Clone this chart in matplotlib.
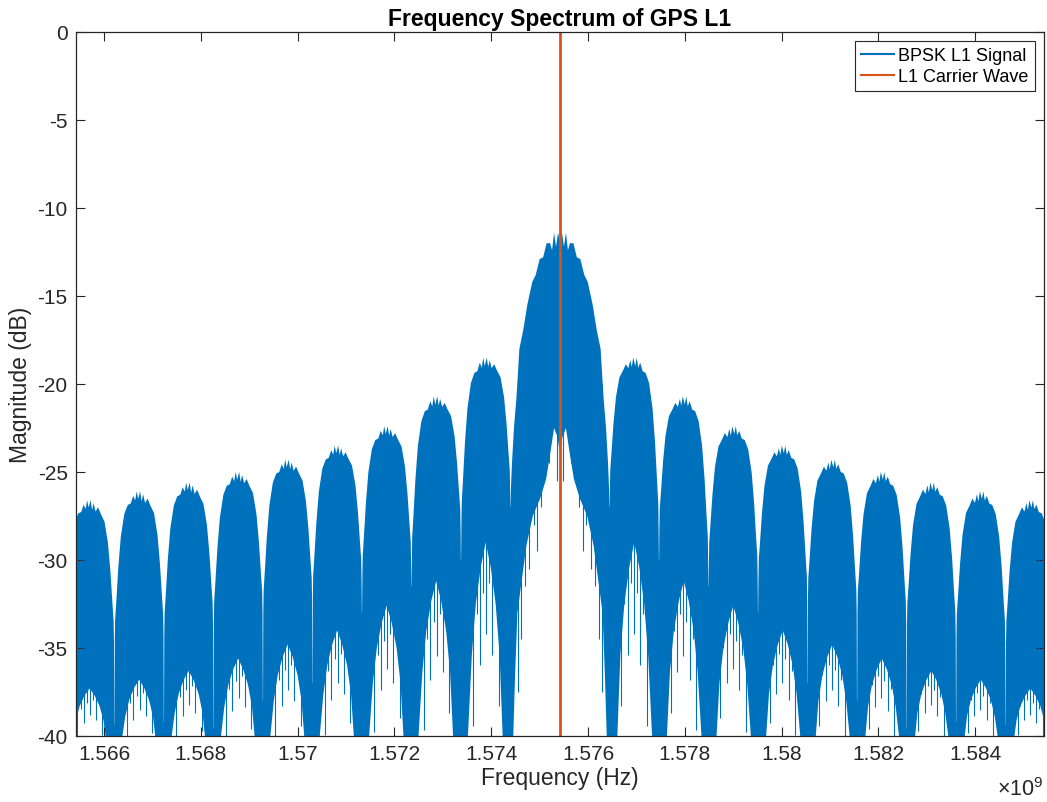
import matplotlib
matplotlib.use("Agg")
import matplotlib.pyplot as plt
import numpy as np
from matplotlib.lines import Line2D

plt.rcParams["font.family"] = ["Liberation Sans", "DejaVu Sans"]
plt.rcParams["axes.unicode_minus"] = False
plt.rcParams["mathtext.fontset"] = "custom"
plt.rcParams["mathtext.rm"] = "Liberation Sans"

BLUE = "#0072BD"
ORANGE = "#D95319"
AXIS_GRAY = "#262626"

# 频率轴：L1 载波 ± 10 MHz，码片速率 1.023 MHz（偏移量以码片为单位）
CARRIER_HZ = 1.57542e9
CHIP_HZ = 1.023e6
SPAN_HZ = 10e6
BOTTOM_DB = -40.6

xtick_hz = [1.566e9, 1.568e9, 1.570e9, 1.572e9, 1.574e9, 1.576e9,
            1.578e9, 1.580e9, 1.582e9, 1.584e9]
xtick_labels = ["1.566", "1.568", "1.57", "1.572", "1.574", "1.576",
                "1.578", "1.58", "1.582", "1.584"]
ytick_db = [-40, -35, -30, -25, -20, -15, -10, -5, 0]
ytick_labels = ["-40", "-35", "-30", "-25", "-20", "-15", "-10", "-5", "0"]

# 主瓣上/下包络（读图，码片偏移，两侧对称）
main_top_off = [0.0, 0.04, 0.08, 0.12, 0.16, 0.2, 0.27, 0.34, 0.41, 0.49, 0.56,
                0.66, 0.74, 0.82, 0.88, 0.93, 0.97]
main_top_db = [-11.9, -11.4, -12.2, -11.4, -12.4, -12.0, -12.0, -12.8, -12.9, -13.8, -14.2,
               -15.5, -16.9, -18.0, -20.8, -22.5, -24.5]
main_low_off = [0.0, 0.05, 0.12, 0.2, 0.28, 0.4, 0.55, 0.68, 0.86, 0.91, 0.95, 1.0]
main_low_db = [-24.0, -23.0, -22.5, -24.0, -25.4, -26.5, -27.5, -29.2, -33.0, -36.8, -40.6, -40.6]
main_spike_off = [0.06, 0.1, 0.17, 0.22, 0.31, 0.38, 0.47, 0.52, 0.62, 0.7, 0.78, 0.84]
main_spike_db = [-25.5, -22.0, -21.8, -24.5, -24.8, -27.0, -29.5, -28.0, -30.5, -31.5, -34.5, -37.5]

# 旁瓣 k = 1..9（两侧相同）：峰值、下方空白区顶部
side_peak_db = [-18.5, -20.7, -22.4, -23.5, -24.3, -25.0, -25.6, -26.1, -26.6]
side_floor_db = [-29.0, -31.2, -32.6, -34.0, -34.8, -35.6, -36.3, -36.8, -37.3]
# 第 k 个零点（k = 1..10）处缺口的深度与细缝底部
null_notch_db = [-26.0, -28.2, -30.1, -31.1, -32.2, -33.0, -33.7, -34.3, -34.7, -35.0]
null_slit_db = [-27.0, -30.0, -31.5, -33.0, -37.0, -38.0, -39.6, -39.2, -39.4, -39.5]

# 旁瓣形状（f 为瓣内位置，0 = 内侧零点）
side_top_f = [0.015, 0.04, 0.08, 0.13, 0.2, 0.27, 0.33, 0.38, 0.42, 0.45, 0.48, 0.52,
              0.55, 0.58, 0.62, 0.67, 0.73, 0.8, 0.87, 0.92, 0.96, 0.985]
side_top_frac = [0.85, 0.72, 0.5, 0.3, 0.15, 0.1, 0.05, 0.08, 0.02, 0.07, 0.0, 0.05,
                 0.0, 0.06, 0.03, 0.08, 0.09, 0.15, 0.3, 0.5, 0.72, 0.85]
side_low_f = [0.0, 0.15, 0.22, 0.3, 0.4, 0.5, 0.6, 0.7, 0.78, 0.87, 1.0]
side_low_frac = [0.0, 0.0, 0.45, 0.7, 0.88, 1.0, 0.88, 0.7, 0.45, 0.0, 0.0]
side_spike_f = [0.24, 0.3, 0.37, 0.43, 0.49, 0.55, 0.62, 0.68, 0.75]
side_spike_depth = [0.8, 0.3, 0.55, 0.2, 0.45, 0.25, 0.6, 0.35, 0.9]


def main():
    top_pts, low_pts = [], []
    spike_x, spike_lo, spike_hi = [], [], []

    for s in (-1, 1):
        # 主瓣
        for o, d in zip(main_top_off, main_top_db):
            top_pts.append((s * o, d))
        for o, d in zip(main_low_off, main_low_db):
            low_pts.append((s * o, d))
        for o, d in zip(main_spike_off, main_spike_db):
            spike_x.append(s * o)
            spike_lo.append(d)
            spike_hi.append(-20.0)

        # 旁瓣
        for k in range(1, 10):
            peak = side_peak_db[k - 1]
            floor = side_floor_db[k - 1]
            for f, fr in zip(side_top_f, side_top_frac):
                notch = null_notch_db[k - 1] if f < 0.5 else null_notch_db[k]
                top_pts.append((s * (k + f), peak - fr * (peak - notch)))
            for f, fr in zip(side_low_f, side_low_frac):
                low_pts.append((s * (k + f), BOTTOM_DB + fr * (floor - BOTTOM_DB)))
            for f, dp in zip(side_spike_f, side_spike_depth):
                spike_x.append(s * (k + f))
                spike_lo.append(floor + dp * (BOTTOM_DB - floor))
                spike_hi.append(peak - 3.0)

        # 零点缺口与细缝
        for k in range(1, 11):
            n = s * k
            top_pts += [(n - 0.008, null_notch_db[k - 1]), (n - 0.002, null_slit_db[k - 1]),
                        (n + 0.002, null_slit_db[k - 1]), (n + 0.008, null_notch_db[k - 1])]

    top_pts = sorted(set(top_pts))
    low_pts = sorted(set(low_pts))
    top_off = np.array([p[0] for p in top_pts])
    top_db = np.array([p[1] for p in top_pts])
    low_off = np.array([p[0] for p in low_pts])
    low_db = np.array([p[1] for p in low_pts])

    poly_x = CARRIER_HZ + np.concatenate([top_off, low_off[::-1]]) * CHIP_HZ
    poly_y = np.concatenate([top_db, low_db[::-1]])

    fig = plt.figure(figsize=(10.47, 8.03), dpi=100)
    ax = fig.add_axes([76 / 1047, 1 - 737 / 803, 968 / 1047, 704 / 803])

    ax.fill(poly_x, poly_y, color=BLUE, lw=0)
    ax.vlines(CARRIER_HZ + np.array(spike_x) * CHIP_HZ, spike_lo, spike_hi,
              color=BLUE, lw=0.8)
    ax.plot([CARRIER_HZ, CARRIER_HZ], [-40, 0], color=ORANGE, lw=2.0)

    ax.set_xlim(CARRIER_HZ - SPAN_HZ, CARRIER_HZ + SPAN_HZ)
    ax.set_ylim(-40, 0)
    ax.set_xticks(xtick_hz)
    ax.set_xticklabels(xtick_labels)
    ax.set_yticks(ytick_db)
    ax.set_yticklabels(ytick_labels)
    ax.tick_params(direction="in", length=6.5, width=0.8, colors=AXIS_GRAY,
                   labelsize=15, top=True, right=True, pad=6)
    for sp in ax.spines.values():
        sp.set_color(AXIS_GRAY)
        sp.set_linewidth(0.9)

    ax.set_title("Frequency Spectrum of GPS L1", fontsize=16.5, fontweight="bold",
                 color="black", pad=5)
    ax.set_xlabel("Frequency (Hz)", fontsize=16.5, color=AXIS_GRAY, labelpad=2)
    ax.set_ylabel("Magnitude (dB)", fontsize=16.5, color=AXIS_GRAY, labelpad=4)
    fig.text(1043 / 1047, 1 - 790 / 803, r"$\times10^{9}$", fontsize=15.5,
             color=AXIS_GRAY, ha="right", va="center")

    handles = [Line2D([], [], color=BLUE, lw=1.5), Line2D([], [], color=ORANGE, lw=1.5)]
    leg = ax.legend(handles, ["BPSK L1 Signal", "L1 Carrier Wave"], loc="upper right",
                    fontsize=13, frameon=True, fancybox=False, framealpha=1,
                    edgecolor=AXIS_GRAY, borderaxespad=0.5, handlelength=1.8,
                    handletextpad=0.25, borderpad=0.35, labelspacing=0.2)
    leg.get_frame().set_linewidth(0.8)

    fig.savefig("out.png", dpi=100)


if __name__ == "__main__":
    main()
